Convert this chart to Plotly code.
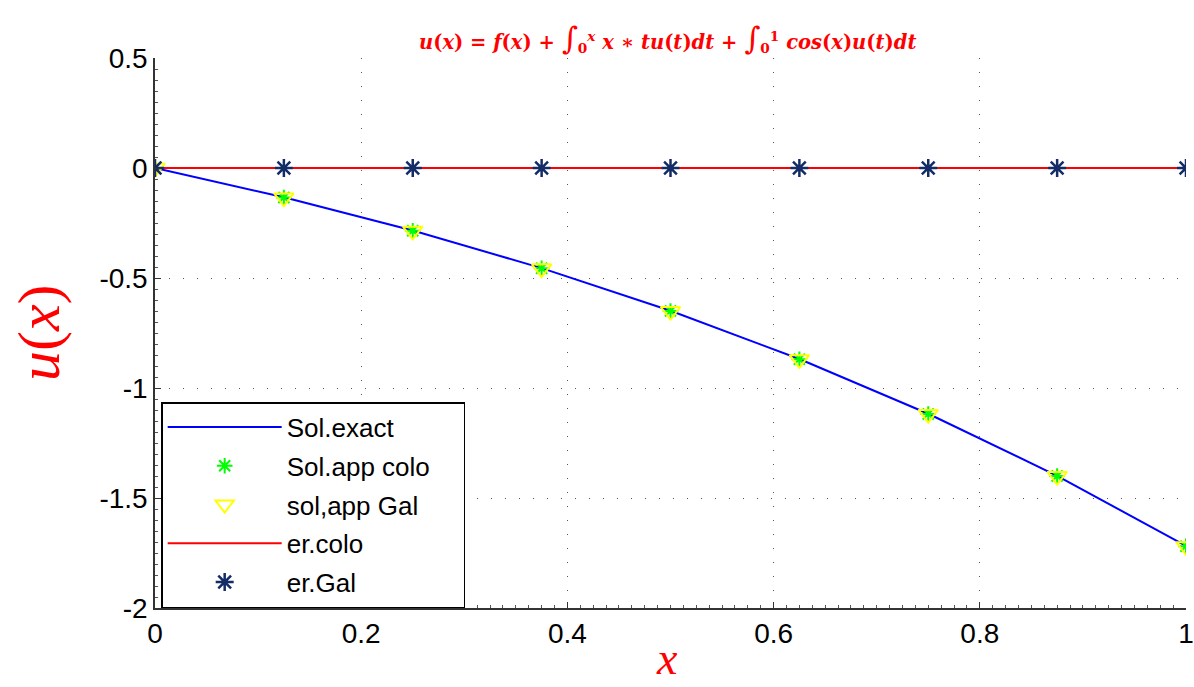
import plotly.graph_objects as go

x_nodes = [0, 0.125, 0.25, 0.375, 0.5, 0.625, 0.75, 0.875, 1.0]
sol_exact = [0, -0.133, -0.284, -0.455, -0.649, -0.868, -1.117, -1.399, -1.718]
sol_colo = [0, -0.134, -0.285, -0.456, -0.650, -0.869, -1.118, -1.400, -1.719]
sol_gal = [0, -0.135, -0.286, -0.457, -0.651, -0.870, -1.119, -1.401, -1.720]
err_colo = [0, 0, 0, 0, 0, 0, 0, 0, 0]
err_gal = [0, 0, 0, 0, 0, 0, 0, 0, 0]

x_ticks = [0, 0.2, 0.4, 0.6, 0.8, 1]
x_ticklabels = ["0", "0.2", "0.4", "0.6", "0.8", "1"]
y_ticks = [0.5, 0, -0.5, -1, -1.5, -2]
y_ticklabels = ["0.5", "0", "-0.5", "-1", "-1.5", "-2"]

fig = go.Figure()
fig.add_trace(go.Scatter(x=x_nodes, y=sol_exact, mode="lines", name="Sol.exact",
                         line=dict(color="#0000ff", width=2), legendgroup="a"))
fig.add_trace(go.Scatter(x=x_nodes, y=sol_colo, mode="markers", name="Sol.app colo&nbsp;&nbsp;&nbsp;&nbsp;",
                         marker=dict(symbol="asterisk-open", size=13, color="#00ff00",
                                     line=dict(color="#00ff00", width=2)), legendgroup="b"))
fig.add_trace(go.Scatter(x=x_nodes, y=sol_gal, mode="markers", name="sol,app Gal",
                         marker=dict(symbol="triangle-down-open", size=17, color="#ffff00",
                                     line=dict(color="#ffff00", width=2)), legendgroup="c"))
fig.add_trace(go.Scatter(x=x_nodes, y=err_colo, mode="lines", name="er.colo",
                         line=dict(color="#ff0000", width=2), legendgroup="d"))
fig.add_trace(go.Scatter(x=x_nodes, y=err_gal, mode="markers", name="er.Gal",
                         marker=dict(symbol="asterisk-open", size=15, color="#142c66",
                                     line=dict(color="#142c66", width=2.5)), legendgroup="e"))

axis_common = dict(
    showgrid=True, gridcolor="#555555", griddash="1px,13px", gridwidth=1,
    zeroline=False, showline=True, linecolor="#333333", linewidth=1.5,
    ticks="inside", ticklen=6, tickcolor="#333333", mirror=False,
    automargin=False, ticklabeloverflow="allow",
    tickfont=dict(family="Liberation Sans, Arial, sans-serif", size=28, color="black"),
)

fig.update_layout(
    width=1194, height=687,
    paper_bgcolor="white", plot_bgcolor="white",
    margin=dict(l=155, r=8, t=58, b=79),
    xaxis=dict(range=[0, 1], tickvals=x_ticks, ticktext=x_ticklabels,
               minor=dict(ticks="inside", ticklen=3, dtick=0.0125, tickcolor="#555555", showgrid=False),
               **axis_common),
    yaxis=dict(range=[-2, 0.5], tickvals=y_ticks, ticktext=y_ticklabels,
               minor=dict(ticks="inside", ticklen=3, dtick=0.05, tickcolor="#555555", showgrid=False),
               **axis_common),
    showlegend=True,
    legend=dict(x=0.006, y=0.0, xanchor="left", yanchor="bottom",
                bgcolor="white", bordercolor="black", borderwidth=1.5,
                font=dict(family="Liberation Sans, Arial, sans-serif", size=26, color="black"),
                traceorder="grouped", tracegroupgap=2, itemwidth=114),
)

big = '<span style="font-size:31px;font-weight:normal">∫</span>'
fig.add_annotation(
    text=("<b><i>u</i>(<i>x</i>) = <i>f</i>(<i>x</i>) + " + big +
          "<sub>0</sub><sup><i>x</i></sup> <i>x</i> ∗ <i>tu</i>(<i>t</i>)<i>dt</i> + " + big +
          "<sub>0</sub><sup>1</sup> <i>cos</i>(<i>x</i>)<i>u</i>(<i>t</i>)<i>dt</i></b>"),
    xref="paper", yref="paper", x=0.497, y=1, yanchor="bottom", yshift=0, showarrow=False,
    font=dict(family="DejaVu Serif, serif", size=19.5, color="#ff0000"))

fig.add_annotation(
    text="<i>x</i>", xref="paper", yref="paper", x=0.497, y=0, yanchor="middle", yshift=-50,
    showarrow=False, font=dict(family="Liberation Serif, serif", size=46, color="#ff0000"))

fig.add_annotation(
    text="<i>u</i>(<i>x</i>)", xref="paper", yref="paper", x=0, y=0.5, xanchor="center",
    xshift=-116, yshift=0, textangle=-90, showarrow=False,
    font=dict(family="Liberation Serif, serif", size=60, color="#ff0000"))

fig.write_html("out.html", config={"displayModeBar": False},
               post_script="document.body.style.margin='0';document.body.style.overflow='hidden';")
